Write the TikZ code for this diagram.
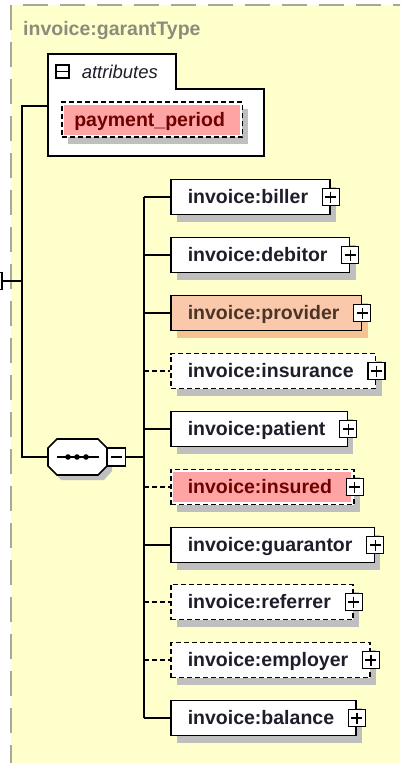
\documentclass[tikz,border=0pt]{standalone}
\usepackage{fontspec}
\setmainfont{Liberation Sans}
\usetikzlibrary{shadows, positioning}

\definecolor{paneyellow}{HTML}{FFFFCC}
\definecolor{panegray}{HTML}{A8A898}
\definecolor{titlegray}{HTML}{8C8C7C}
\definecolor{elemtext}{HTML}{1E1E2A}
\definecolor{attrred}{HTML}{FFA4A4}
\definecolor{attrtext}{HTML}{6E0000}
\definecolor{provfill}{HTML}{FAC8AA}
\definecolor{provshadow}{HTML}{F5C38F}
\definecolor{provtext}{HTML}{4A3428}

\newcommand\elemfont{\fontsize{19.5}{22}\selectfont\bfseries}
\newcommand\attrfont{\fontsize{18.5}{21}\selectfont\itshape}

\begin{document}
\begin{tikzpicture}[x=1pt, y=-1pt,
    link/.style={line width=1.6pt},
    optlink/.style={line width=1.6pt, dash pattern=on 5pt off 3pt},
    elem/.style={draw, line width=1.6pt, fill=white, anchor=west,
        minimum height=35, inner xsep=17, inner ysep=0,
        text height=15, text depth=2, font=\elemfont, text=elemtext,
        execute at end node={\hspace{5pt}},
        drop shadow={shadow xshift=6pt, shadow yshift=-7pt, fill=gray!50, opacity=1}},
    optional/.style={dash pattern=on 5pt off 3pt},
    redinset/.style={text=attrtext, path picture={\fill[attrred]
        ([shift={(2.5,2.5)}]path picture bounding box.north west) rectangle
        ([shift={(-2.5,-2.5)}]path picture bounding box.south east);}},
    provider/.style={fill=provfill, text=provtext,
        drop shadow={shadow xshift=6pt, shadow yshift=-7pt, fill=provshadow, opacity=1}},
    plusbox/.style={draw, line width=1.2pt, fill=white, minimum size=17, inner sep=0,
        path picture={\draw[line width=1.2pt, shift={(path picture bounding box.center)}]
        (-5.5,0) -- (5.5,0) (0,-5.5) -- (0,5.5);}},
    minusbox/.style={draw, line width=1.2pt, fill=white, minimum size=17, inner sep=0,
        path picture={\draw[line width=1.2pt, shift={(path picture bounding box.center)}]
        (-5.5,0) -- (5.5,0);}}]

    \useasboundingbox (0,0) rectangle (400,763);
    \clip (0,0) rectangle (400,763);
    \fill[white] (0,0) rectangle (400,763);

    % complex type pane
    \fill[paneyellow] (11,5) rectangle (410,770);
    \draw[panegray, line width=1.5pt, dash pattern=on 25pt off 12pt] (11,770) -- (11,5) -- (410,5);
    \node[font=\elemfont, text=titlegray, anchor=base west, inner sep=0] (title) at (23,35.7) {invoice:garantType};

    % attributes
    \draw[line width=1.6pt, fill=white] (48,54) -- (176,54) -- (176,89) -- (264,89) -- (264,156) -- (48,156) -- cycle;
    \node[minusbox, minimum size=13] (attrm) at (62.5,71.5) {};
    \node[right=12pt of attrm, inner sep=0, font=\attrfont, text=elemtext] (attrlabel) {attributes};
    \node[elem, optional, redinset, inner xsep=12.5, execute at end node={}] (payment) at (61,119.5) {payment\_period};
    \coordinate (attrin) at (48,106);

    % sequence
    \node[plusbox] (parent) at (-6.5,281) {};
    \coordinate (trunk) at (22,281);
    \fill[gray!50] (61,444) -- (104,444) -- (112,453) -- (112,471) -- (104,480) -- (61,480) -- (53,471) -- (53,453) -- cycle;
    \draw[line width=1.6pt, fill=white] (57,439) -- (98,439) -- (107,448) -- (107,466) -- (98,475) -- (57,475) -- (48,466) -- (48,448) -- cycle;
    \node[minimum width=59, minimum height=36, inner sep=0] (seq) at (77.5,457) {};
    \draw[line width=1.6pt] (57,457) -- (99,457);
    \fill (68,457) circle (2.8) (77,457) circle (2.8) (86,457) circle (2.8);
    \node[minusbox, minimum size=18] (seqm) at (116.5,457) {};
    \coordinate (fork) at (144,457);

    \draw[link] (attrin) -| (trunk) |- (seq.west)
        (parent.east) -- (trunk)
        (seqm.east) -- (fork);

    % children
    \node[elem] (biller) at (170,197) {invoice:biller};
    \node[elem] (debitor) at (170,255) {invoice:debitor};
    \node[elem, provider] (provider) at (170,313) {invoice:provider};
    \node[elem, optional] (insurance) at (170,371) {invoice:insurance};
    \node[elem] (patient) at (170,429) {invoice:patient};
    \node[elem, optional, redinset] (insured) at (170,487) {invoice:insured};
    \node[elem] (guarantor) at (170,545) {invoice:guarantor};
    \node[elem, optional] (referrer) at (170,602) {invoice:referrer};
    \node[elem, optional] (employer) at (170,660) {invoice:employer};
    \node[elem] (balance) at (170,718) {invoice:balance};

    \node[plusbox] at (biller.east) {};
    \node[plusbox] at (debitor.east) {};
    \node[plusbox] at (provider.east) {};
    \node[plusbox] at (insurance.east) {};
    \node[plusbox] at (patient.east) {};
    \node[plusbox] at (insured.east) {};
    \node[plusbox] at (guarantor.east) {};
    \node[plusbox] at (referrer.east) {};
    \node[plusbox] at (employer.east) {};
    \node[plusbox] at (balance.east) {};

    \draw[link] (fork |- biller.west) -- (fork |- balance.west)
        (fork |- biller.west) -- (biller.west)
        (fork |- debitor.west) -- (debitor.west)
        (fork |- provider.west) -- (provider.west)
        (fork |- patient.west) -- (patient.west)
        (fork |- guarantor.west) -- (guarantor.west)
        (fork |- balance.west) -- (balance.west);
    \draw[optlink] (fork |- insurance.west) -- (insurance.west)
        (fork |- insured.west) -- (insured.west)
        (fork |- referrer.west) -- (referrer.west)
        (fork |- employer.west) -- (employer.west);
\end{tikzpicture}
\end{document}
